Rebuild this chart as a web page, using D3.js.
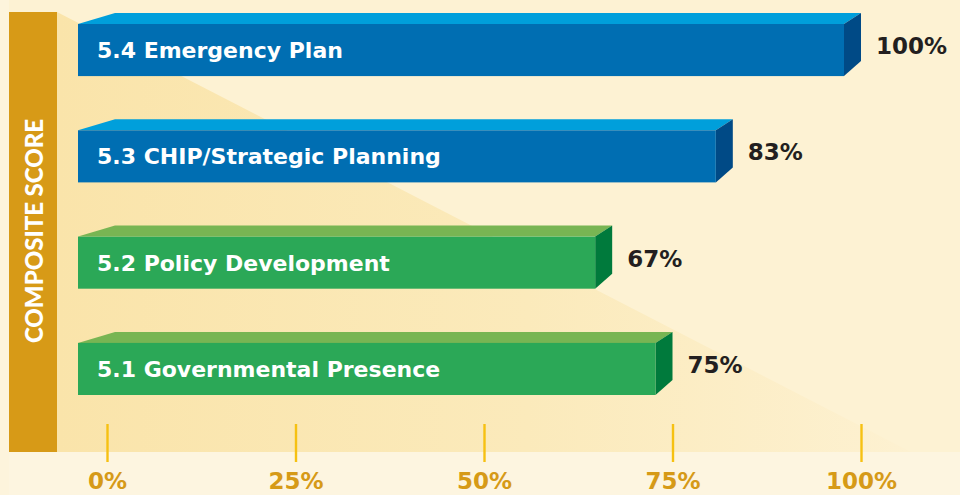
<!DOCTYPE html>
<html>
<head>
<meta charset="utf-8">
<script src="https://cdn.jsdelivr.net/npm/d3@7"></script>
<style>
  html, body { margin: 0; padding: 0; background: #fdf2d3; }
  svg { display: block; }
</style>
</head>
<body>
<svg id="chart" width="960" height="495"></svg>
<script>
// ---- data ----
const categories = [
  "5.4 Emergency Plan",
  "5.3 CHIP/Strategic Planning",
  "5.2 Policy Development",
  "5.1 Governmental Presence"
];
const values = [100, 83, 67, 75];
const valueLabels = ["100%", "83%", "67%", "75%"];
const tickValues = [0, 25, 50, 75, 100];
const tickLabels = ["0%", "25%", "50%", "75%", "100%"];
const axisTitle = "COMPOSITE SCORE";

// ---- styles ----
const palette = {
  blue:  { top: "#009fdb", front: "#006eb2", side: "#004a86" },
  green: { top: "#78b553", front: "#2ba857", side: "#007a3c" }
};
const groupOf = d3.scaleOrdinal().domain(categories).range(["blue", "blue", "green", "green"]);
const wideFont = "'DejaVu Sans', Verdana, sans-serif";
const titleFont = "Lato, 'Open Sans', sans-serif";

const W = 960, H = 495;
const svg = d3.select("#chart");

// ---- background ----
const defs = svg.append("defs");
const grad = defs.append("linearGradient").attr("id", "wedge")
  .attr("x1", "0%").attr("y1", "0%").attr("x2", "100%").attr("y2", "0%");
grad.append("stop").attr("offset", "0%").attr("stop-color", "#fae4aa");
grad.append("stop").attr("offset", "55%").attr("stop-color", "#fbeabb");
grad.append("stop").attr("offset", "100%").attr("stop-color", "#fdf1d1");

svg.append("rect").attr("x", 0).attr("y", 0).attr("width", W).attr("height", H).attr("fill", "#fdf2d3");
svg.append("rect").attr("x", 0).attr("y", 452).attr("width", W).attr("height", H - 452).attr("fill", "#fdf5e0");
svg.append("rect").attr("x", 0).attr("y", 0).attr("width", 9).attr("height", H).attr("fill", "#fdf4dc");
svg.append("polygon")
  .attr("points", [[57, 12], [911, 452], [57, 452]].map(p => p.join(",")).join(" "))
  .attr("fill", "url(#wedge)");

// ---- scales ----
const x = d3.scaleLinear().domain([0, 100]).range([107, 861]);
const y = d3.scaleBand().domain(categories).range([24, 395]).paddingInner(0.51).paddingOuter(0);
const bw = y.bandwidth();
const barLeft = 78, depthX = 17, depthY = 11, leftSlant = 37;

// ---- left title bar ----
svg.append("rect").attr("x", 9).attr("y", 12).attr("width", 48).attr("height", 440).attr("fill", "#d79a17");
svg.append("text")
  .attr("transform", "translate(33,231) rotate(-90)")
  .attr("text-anchor", "middle")
  .attr("dominant-baseline", "central")
  .attr("fill", "#ffffff")
  .attr("font-family", titleFont)
  .attr("font-weight", 900)
  .attr("font-size", 24)
  .text(axisTitle);

// ---- axis ticks ----
const axis = d3.axisBottom(x).tickValues(tickValues).tickSize(38)
  .tickFormat((d, i) => tickLabels[i]);
const gAxis = svg.append("g").attr("transform", "translate(0,424)").call(axis);
gAxis.select(".domain").remove();
gAxis.selectAll(".tick line").attr("stroke", "#f6c112").attr("stroke-width", 2.4);
gAxis.selectAll(".tick text")
  .attr("y", 65)
  .attr("dy", null)
  .attr("fill", "#d69a17")
  .attr("font-family", wideFont)
  .attr("font-weight", "bold")
  .attr("font-size", 23);

// ---- bars ----
const rows = categories.map((c, i) => ({ cat: c, value: values[i], label: valueLabels[i] }));
const bars = svg.append("g").selectAll("g").data(rows).join("g");

bars.each(function(d) {
  const g = d3.select(this);
  const col = palette[groupOf(d.cat)];
  const t = y(d.cat);
  const xr = x(d.value) - depthX;
  // top face
  g.append("polygon")
    .attr("points", [[barLeft, t], [barLeft + leftSlant, t - depthY], [xr + depthX, t - depthY], [xr, t]].map(p => p.join(",")).join(" "))
    .attr("fill", col.top);
  // side face
  g.append("polygon")
    .attr("points", [[xr, t], [xr + depthX, t - depthY], [xr + depthX, t + bw - 15], [xr, t + bw]].map(p => p.join(",")).join(" "))
    .attr("fill", col.side);
  // front face
  g.append("rect").attr("x", barLeft).attr("y", t).attr("width", xr - barLeft).attr("height", bw).attr("fill", col.front);
  // category label
  g.append("text")
    .attr("x", 97).attr("y", t + bw / 2 + 8)
    .attr("fill", "#ffffff")
    .attr("font-family", wideFont)
    .attr("font-weight", "bold")
    .attr("font-size", 22)
    .text(d.cat);
  // value label
  g.append("text")
    .attr("x", x(d.value) + 15).attr("y", t + bw / 2 + 4)
    .attr("fill", "#231f20")
    .attr("font-family", wideFont)
    .attr("font-weight", "bold")
    .attr("font-size", 23)
    .text(d.label);
});
</script>
</body>
</html>
